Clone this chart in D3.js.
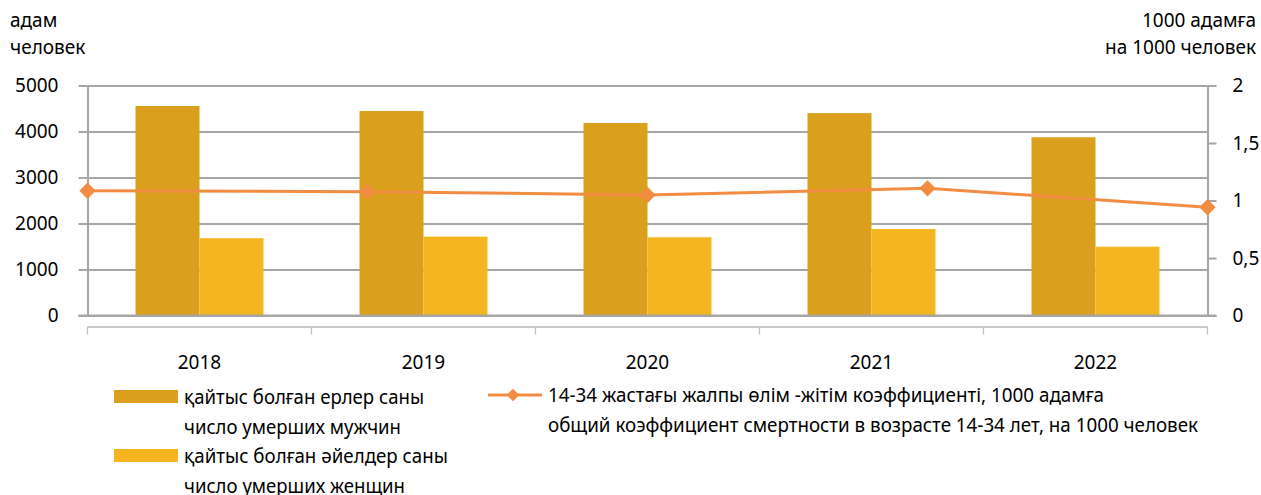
<!DOCTYPE html>
<html>
<head>
<meta charset="utf-8">
<script src="https://cdn.jsdelivr.net/npm/d3@7"></script>
<style>
  body { margin: 0; background: #fff; }
  text { font-family: "Noto Sans", "Open Sans", sans-serif; fill: #000; }
</style>
</head>
<body>
<svg id="chart"></svg>
<script>
const years = ["2018", "2019", "2020", "2021", "2022"];
const deathsMen = [4555, 4445, 4185, 4400, 3875];
const deathsWomen = [1680, 1715, 1700, 1880, 1495];
const mortalityRate = [1.085, 1.077, 1.048, 1.106, 0.941];
const leftTicks = [0, 1000, 2000, 3000, 4000, 5000];
const rightTicks = [0, 0.5, 1, 1.5, 2];
const rightTickLabels = ["0", "0,5", "1", "1,5", "2"];

const W = 1261, H = 495;
const margin = { top: 85.5, right: 53.5, bottom: 179.5, left: 87.5 };
const width = W - margin.left - margin.right;
const height = H - margin.top - margin.bottom;

const colMen = "#DAA01D", colWomen = "#F5B520", colLine = "#F18C42";
const gridCol = "#A6A6A6";
const fs = 19;

const svg = d3.select("#chart").attr("width", W).attr("height", H);
const g = svg.append("g").attr("transform", `translate(${margin.left},${margin.top})`);

const x = d3.scaleBand().domain(years).range([0, width]).padding(0);
const xInner = d3.scaleBand().domain(["men", "women"]).range([0, x.bandwidth()])
  .paddingInner(0).paddingOuter(0.75);
const xLine = d3.scalePoint().domain(years).range([0, width]).padding(0);
const y = d3.scaleLinear().domain([0, 5000]).range([height, 0]);
const y2 = d3.scaleLinear().domain([0, 2]).range([height, 0]);

// gridlines
g.append("g")
  .call(d3.axisLeft(y).tickValues(leftTicks).tickSize(-width).tickFormat(""))
  .call((s) => s.select(".domain").remove())
  .selectAll("line").attr("stroke", gridCol).attr("stroke-width", 2);

// bars
const rows = years.map((yr, i) => ({ year: yr, men: deathsMen[i], women: deathsWomen[i] }));
const grp = g.selectAll(".grp").data(rows).enter().append("g")
  .attr("transform", (d) => `translate(${x(d.year)},0)`);
grp.append("rect")
  .attr("x", xInner("men")).attr("width", xInner.bandwidth())
  .attr("y", (d) => y(d.men)).attr("height", (d) => height - y(d.men))
  .attr("fill", colMen);
grp.append("rect")
  .attr("x", xInner("women")).attr("width", xInner.bandwidth())
  .attr("y", (d) => y(d.women)).attr("height", (d) => height - y(d.women))
  .attr("fill", colWomen);

// left axis
g.append("g")
  .call(d3.axisLeft(y).tickValues(leftTicks).tickSize(9).tickPadding(20).tickSizeOuter(0)
    .tickFormat(d3.format("d")))
  .call((s) => s.select(".domain").attr("stroke", gridCol).attr("stroke-width", 2))
  .call((s) => s.selectAll("line").attr("stroke", gridCol).attr("stroke-width", 2))
  .call((s) => s.selectAll("text").attr("font-size", fs).attr("fill", "#000"));

// right axis
g.append("g").attr("transform", `translate(${width},0)`)
  .call(d3.axisRight(y2).tickValues(rightTicks).tickSize(9).tickPadding(16).tickSizeOuter(0)
    .tickFormat((d, i) => rightTickLabels[i]))
  .call((s) => s.select(".domain").attr("stroke", gridCol).attr("stroke-width", 2))
  .call((s) => s.selectAll("line").attr("stroke", gridCol).attr("stroke-width", 2))
  .call((s) => s.selectAll("text").attr("font-size", fs).attr("fill", "#000"));

// baseline
g.append("line").attr("x1", -9).attr("x2", width + 9).attr("y1", height).attr("y2", height)
  .attr("stroke", gridCol).attr("stroke-width", 2);

// category bracket axis
const bracketY = height + 11.5;
g.append("line").attr("x1", 0).attr("x2", width).attr("y1", bracketY).attr("y2", bracketY)
  .attr("stroke", "#C8C8C8").attr("stroke-width", 2);
const edges = years.map((d) => x(d)).concat([width]);
g.selectAll(".edge").data(edges).enter().append("line")
  .attr("x1", (d) => d).attr("x2", (d) => d)
  .attr("y1", bracketY).attr("y2", bracketY + 7.5)
  .attr("stroke", "#C0C0C0").attr("stroke-width", 1.3);
g.selectAll(".yr").data(years).enter().append("text")
  .attr("x", (d) => x(d) + x.bandwidth() / 2).attr("y", height + 46)
  .attr("text-anchor", "middle").attr("dominant-baseline", "central")
  .attr("font-size", fs).text((d) => d);

// line series
const pts = years.map((yr, i) => [xLine(yr), y2(mortalityRate[i])]);
g.append("path").attr("d", d3.line()(pts)).attr("fill", "none")
  .attr("stroke", colLine).attr("stroke-width", 3);
const diamond = d3.symbol().type(d3.symbolDiamond2).size(170);
g.selectAll(".mk").data(pts).enter().append("path")
  .attr("d", diamond).attr("transform", (d) => `translate(${d[0]},${d[1]})`)
  .attr("fill", colLine);

// axis titles
const titles = svg.append("g").attr("font-size", fs);
titles.append("text").attr("x", 10).attr("y", 20).attr("dominant-baseline", "central").text("адам");
titles.append("text").attr("x", 10).attr("y", 47).attr("dominant-baseline", "central").text("человек");
titles.append("text").attr("x", 1256).attr("y", 20).attr("text-anchor", "end")
  .attr("dominant-baseline", "central").text("1000 адамға");
titles.append("text").attr("x", 1256).attr("y", 47).attr("text-anchor", "end")
  .attr("dominant-baseline", "central").text("на 1000 человек");

// legend
const leg = svg.append("g").attr("font-size", fs);
const legItems = [
  { col: colMen, y: 390, lines: ["қайтыс болған ерлер саны", "число умерших мужчин"], lens: [240, 217] },
  { col: colWomen, y: 449, lines: ["қайтыс болған әйелдер саны", "число умерших женщин"], lens: [264, 221] },
];
legItems.forEach((it) => {
  leg.append("rect").attr("x", 114).attr("y", it.y).attr("width", 64).attr("height", 13).attr("fill", it.col);
  it.lines.forEach((t, j) => {
    leg.append("text").attr("x", 184).attr("y", it.y + 7 + j * 29.5)
      .attr("dominant-baseline", "central")
      .attr("textLength", it.lens[j]).attr("lengthAdjust", "spacingAndGlyphs").text(t);
  });
});
leg.append("line").attr("x1", 488).attr("x2", 542).attr("y1", 395).attr("y2", 395)
  .attr("stroke", colLine).attr("stroke-width", 3);
leg.append("path").attr("d", d3.symbol().type(d3.symbolDiamond2).size(100))
  .attr("transform", "translate(513,395)").attr("fill", colLine);
const lineLegend = ["14-34 жастағы жалпы өлім -жітім коэффициенті, 1000 адамға",
  "общий коэффициент смертности в возрасте 14-34 лет, на 1000 человек"];
const lineLegendLens = [556, 650];
lineLegend.forEach((t, j) => {
  leg.append("text").attr("x", 548).attr("y", 395 + j * 29.5)
    .attr("dominant-baseline", "central")
    .attr("textLength", lineLegendLens[j]).attr("lengthAdjust", "spacingAndGlyphs").text(t);
});
</script>
</body>
</html>
